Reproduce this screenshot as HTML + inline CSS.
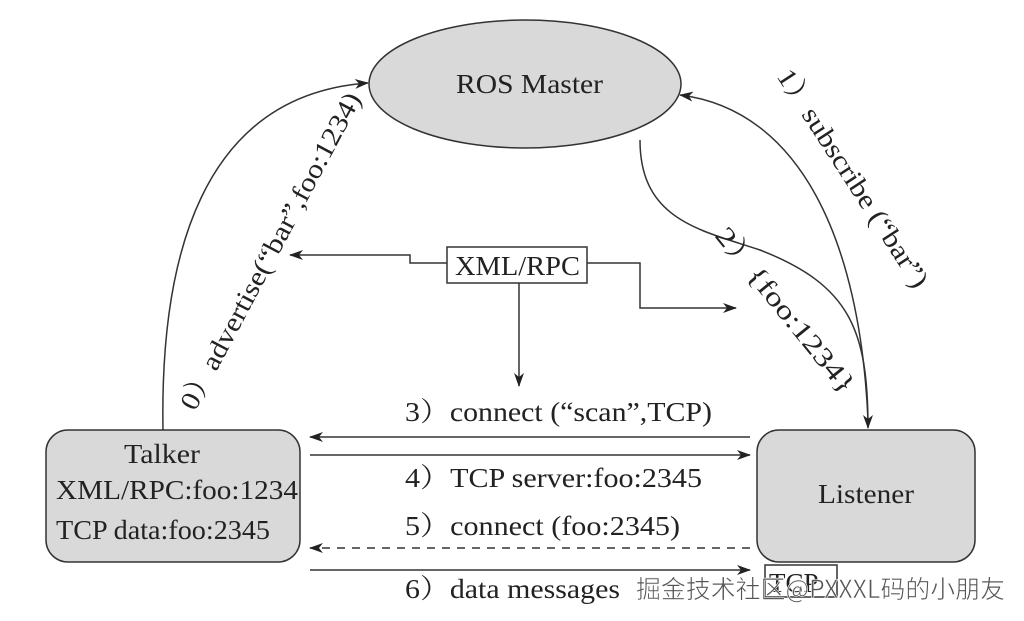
<!DOCTYPE html>
<html><head><meta charset="utf-8"><style>
body{margin:0;background:#fff;}
svg{display:block;font-family:"Liberation Serif","Noto Serif CJK SC",serif;}
</style></head><body>
<svg width="1024" height="621" viewBox="0 0 1024 621" xmlns="http://www.w3.org/2000/svg">
<defs><marker id="a" markerWidth="14" markerHeight="10" refX="13" refY="5" orient="auto" markerUnits="userSpaceOnUse"><path d="M0,0 L14,5 L0,10 L4,5z" fill="#222"/></marker></defs>
<g stroke="#333" stroke-width="1.5" fill="none">
<ellipse cx="525" cy="84" rx="156" ry="64" fill="#d9d9d9"/>
<rect x="46" y="430" width="254" height="132" rx="22" fill="#d9d9d9"/>
<rect x="757" y="430" width="218" height="132" rx="22" fill="#d9d9d9"/>
<rect x="447" y="247" width="140" height="36" fill="#fff"/>
<rect x="765" y="565" width="72" height="32"/>
<path d="M163,430 C160,260 200,95 368,83" marker-end="url(#a)"/>
<path d="M868,420 C860,240 800,110 680,95" marker-end="url(#a)"/>
<path d="M640,140 C640,220 700,230 760,250 C850,285 868,330 868,428" marker-end="url(#a)"/>
<path d="M447,263 L410,263 L410,255 L290,255" marker-end="url(#a)"/>
<path d="M587,263 L640,263 L640,308 L736,308" marker-end="url(#a)"/>
<path d="M519,283 L519,386" marker-end="url(#a)"/>
<path d="M750,437 L310,437" marker-end="url(#a)"/>
<path d="M310,455 L750,455" marker-end="url(#a)"/>
<path d="M750,548 L310,548" stroke-dasharray="8,7" marker-end="url(#a)"/>
<path d="M310,570 L750,570" marker-end="url(#a)"/>
</g>
<g fill="#222" font-size="27">
<text x="456" y="93" textLength="147" lengthAdjust="spacingAndGlyphs">ROS Master</text>
<text x="124" y="463" textLength="76" lengthAdjust="spacingAndGlyphs">Talker</text>
<text x="56" y="499" textLength="242" lengthAdjust="spacingAndGlyphs">XML/RPC:foo:1234</text>
<text x="56" y="539" textLength="214" lengthAdjust="spacingAndGlyphs">TCP data:foo:2345</text>
<text x="818" y="503" textLength="96" lengthAdjust="spacingAndGlyphs">Listener</text>
<text x="455" y="275" textLength="125" lengthAdjust="spacingAndGlyphs">XML/RPC</text>
<text x="405" y="421" textLength="307" lengthAdjust="spacingAndGlyphs">3）connect (“scan”,TCP)</text>
<text x="405" y="487" textLength="297" lengthAdjust="spacingAndGlyphs">4）TCP server:foo:2345</text>
<text x="405" y="535" textLength="275" lengthAdjust="spacingAndGlyphs">5）connect (foo:2345)</text>
<text x="405" y="598" textLength="215" lengthAdjust="spacingAndGlyphs">6）data messages</text>
<text x="769" y="592">TCP</text>
<text transform="translate(195,412) rotate(-62)" textLength="355" lengthAdjust="spacingAndGlyphs">0）advertise(“bar”,foo:1234)</text>
<text transform="translate(776,76) rotate(57)" textLength="255" lengthAdjust="spacingAndGlyphs">1）subscribe (“bar”)</text>
<text transform="translate(714,236) rotate(51)" textLength="205" lengthAdjust="spacingAndGlyphs">2）{foo:1234}</text>
<text x="636" y="598" font-family="'Noto Sans CJK SC',sans-serif" font-size="25" fill="#555" stroke="#fff" stroke-width="0.6" textLength="369" lengthAdjust="spacingAndGlyphs">掘金技术社区@PXXXL码的小朋友</text>
</g>
</svg>
</body></html>
